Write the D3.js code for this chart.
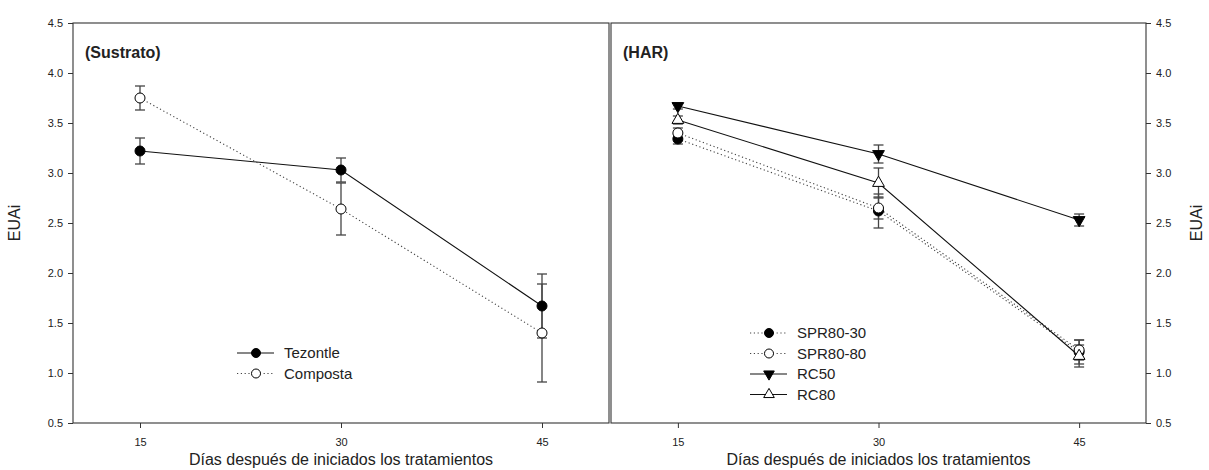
<!DOCTYPE html>
<html>
<head>
<meta charset="utf-8">
<script src="https://cdn.jsdelivr.net/npm/d3@7"></script>
<style>
  body { margin: 0; background: #fff; }
  text { font-family: "Liberation Sans", Arial, sans-serif; fill: #222; }
</style>
</head>
<body>
<svg id="chart"></svg>
<script>
const width = 1209;
const height = 470;
const svg = d3.select("svg#chart").attr("width", width).attr("height", height);

// data
const days = [15, 30, 45];
const yTicks = [0.5, 1.0, 1.5, 2.0, 2.5, 3.0, 3.5, 4.0, 4.5];

const tezontle = [3.22, 3.03, 1.67];
const tezontleErr = [0.13, 0.12, 0.32];
const composta = [3.75, 2.64, 1.40];
const compostaErr = [0.12, 0.26, 0.49];

const spr8030 = [3.34, 2.62, 1.21];
const spr8030Err = [0.05, 0.17, 0.12];
const spr8080 = [3.40, 2.65, 1.23];
const spr8080Err = [0.05, 0.11, 0.10];
const rc50 = [3.67, 3.19, 2.53];
const rc50Err = [0.03, 0.09, 0.06];
const rc80 = [3.53, 2.90, 1.17];
const rc80Err = [0.04, 0.15, 0.11];

const panels = [
  {
    title: "(Sustrato)", left: 73, right: 609, axisSide: "left",
    legendX: 237, legendY: 353,
    series: [
      {name: "Tezontle", values: tezontle, err: tezontleErr, marker: "circle", filled: true, dotted: false},
      {name: "Composta", values: composta, err: compostaErr, marker: "circle", filled: false, dotted: true}
    ]
  },
  {
    title: "(HAR)", left: 611, right: 1146, axisSide: "right",
    legendX: 750, legendY: 333,
    series: [
      {name: "SPR80-30", values: spr8030, err: spr8030Err, marker: "circle", filled: true, dotted: true},
      {name: "SPR80-80", values: spr8080, err: spr8080Err, marker: "circle", filled: false, dotted: true},
      {name: "RC50", values: rc50, err: rc50Err, marker: "down", filled: true, dotted: false},
      {name: "RC80", values: rc80, err: rc80Err, marker: "up", filled: false, dotted: false}
    ]
  }
];

const plotTop = 23, plotBottom = 423;
const y = d3.scaleLinear().domain([0.5, 4.5]).range([plotBottom, plotTop]);

function drawMarker(g, type, filled, cx, cy, r) {
  const fill = filled ? "#000" : "#fff";
  if (type == "circle") {
    g.append("circle").attr("cx", cx).attr("cy", cy).attr("r", r)
      .attr("fill", fill).attr("stroke", "#000").attr("stroke-width", 1);
  } else {
    const sym = d3.symbol().type(d3.symbolTriangle).size(r * r * 2.4);
    g.append("path").attr("d", sym())
      .attr("transform", "translate(" + cx + "," + cy + ")" + (type == "down" ? " rotate(180)" : ""))
      .attr("fill", fill).attr("stroke", "#000").attr("stroke-width", 1);
  }
}

panels.forEach(function(p) {
  const x = d3.scaleLinear().domain([10, 50]).range([p.left, p.right]);
  const g = svg.append("g");

  // frame
  g.append("rect")
    .attr("x", p.left).attr("y", plotTop)
    .attr("width", p.right - p.left).attr("height", plotBottom - plotTop)
    .attr("fill", "none").attr("stroke", "#333").attr("stroke-width", 1.1);

  // x axis
  const xAxis = g.append("g")
    .attr("transform", "translate(0," + plotBottom + ")")
    .call(d3.axisBottom(x).tickValues(days).tickSize(5).tickPadding(10).tickSizeOuter(0));
  xAxis.select(".domain").remove();
  xAxis.selectAll("text").style("font-size", "11px").attr("font-family", null);
  xAxis.selectAll("line").attr("stroke", "#333");

  // y axis
  const yAx = p.axisSide == "left" ? d3.axisLeft(y) : d3.axisRight(y);
  const yAxis = g.append("g")
    .attr("transform", "translate(" + (p.axisSide == "left" ? p.left : p.right) + ",0)")
    .call(yAx.tickValues(yTicks).tickFormat(d3.format(".1f")).tickSize(5).tickPadding(5).tickSizeOuter(0));
  yAxis.select(".domain").remove();
  yAxis.selectAll("text").style("font-size", "11px").attr("font-family", null);
  yAxis.selectAll("line").attr("stroke", "#333");

  // axis titles
  g.append("text")
    .attr("x", (p.left + p.right) / 2)
    .attr("y", 465)
    .attr("text-anchor", "middle")
    .style("font-size", "16px")
    .text("Días después de iniciados los tratamientos");

  const yMid = (plotTop + plotBottom) / 2;
  const yLabX = p.axisSide == "left" ? 14 : 1196;
  g.append("text")
    .attr("transform", "translate(" + yLabX + "," + yMid + ") rotate(-90)")
    .attr("text-anchor", "middle")
    .attr("dy", "0.35em")
    .style("font-size", "16px")
    .text("EUAi");

  // panel title
  g.append("text")
    .attr("x", p.left + 12)
    .attr("y", 58)
    .style("font-size", "16px")
    .style("font-weight", "bold")
    .text(p.title);

  // lines
  const line = d3.line().x(function(d, i) { return x(days[i]); }).y(function(d) { return y(d); });
  p.series.forEach(function(s) {
    g.append("path")
      .datum(s.values)
      .attr("d", line)
      .attr("fill", "none")
      .attr("stroke", s.dotted ? "#444" : "#111")
      .attr("stroke-width", 1.1)
      .attr("stroke-dasharray", s.dotted ? "1.2,2.6" : null);
  });

  // error bars
  p.series.forEach(function(s) {
    s.values.forEach(function(v, i) {
      const cx = x(days[i]);
      const y1 = y(v + s.err[i]), y2 = y(v - s.err[i]);
      g.append("line").attr("x1", cx).attr("x2", cx).attr("y1", y1).attr("y2", y2)
        .attr("stroke", "#444").attr("stroke-width", 1.3);
      [y1, y2].forEach(function(yy) {
        g.append("line").attr("x1", cx - 5).attr("x2", cx + 5).attr("y1", yy).attr("y2", yy)
          .attr("stroke", "#444").attr("stroke-width", 1.3);
      });
    });
  });

  // markers
  p.series.forEach(function(s) {
    s.values.forEach(function(v, i) {
      drawMarker(g, s.marker, s.filled, x(days[i]), y(v), 5);
    });
  });

  // legend
  const lg = g.append("g");
  p.series.forEach(function(s, i) {
    const ly = p.legendY + i * 20.5;
    lg.append("line")
      .attr("x1", p.legendX).attr("x2", p.legendX + 37)
      .attr("y1", ly).attr("y2", ly)
      .attr("stroke", s.dotted ? "#444" : "#111")
      .attr("stroke-width", 1.1)
      .attr("stroke-dasharray", s.dotted ? "1.2,2.6" : null);
    drawMarker(lg, s.marker, s.filled, p.legendX + 19, ly, 4.5);
    lg.append("text")
      .attr("x", p.legendX + 47)
      .attr("y", ly)
      .attr("dy", "0.36em")
      .style("font-size", "15px")
      .text(s.name);
  });
});
</script>
</body>
</html>
